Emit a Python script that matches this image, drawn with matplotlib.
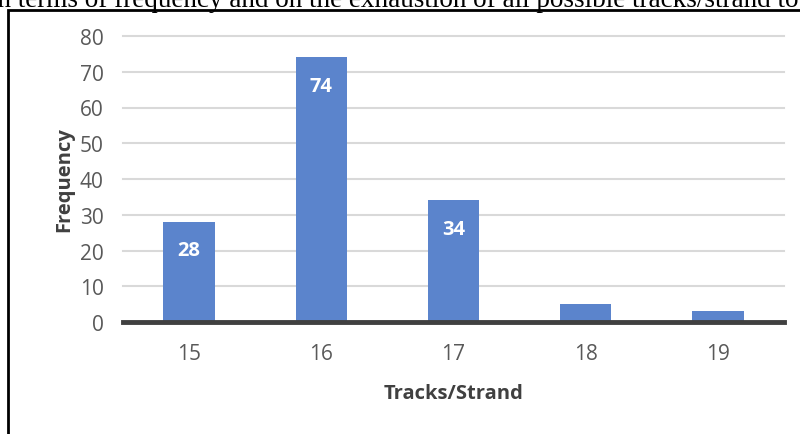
import matplotlib.pyplot as plt
from matplotlib.patches import Rectangle

# data
tracks = ['15', '16', '17', '18', '19']
frequency = [28, 74, 34, 5, 3]
labelled = [True, True, True, False, False]

plt.rcParams['font.family'] = ['Open Sans', 'DejaVu Sans']

fig = plt.figure(figsize=(8, 4.35), dpi=100)

# frame of the figure box in the document
fig.patches.append(Rectangle((8 / 800, -0.1), 1.0, 1 - 11 / 435 + 0.1, transform=fig.transFigure,
                             fill=False, edgecolor='black', linewidth=2, zorder=5))
# cut-off caption line above the box
fig.text(-0.012, 1 - 7 / 435, 'in terms of frequency and on the exhaustion of all possible tracks/strand to',
         family='Liberation Serif', fontsize=19.5, va='baseline', ha='left')

ax = fig.add_axes([123 / 800, 1 - 323 / 435, (784 - 123) / 800, (323 - 37) / 435])
x = range(len(tracks))
bars = ax.bar(x, frequency, width=0.39, color='#5b84cc', zorder=2)

for b, v, show in zip(bars, frequency, labelled):
    if show:
        ax.text(b.get_x() + b.get_width() / 2, v - 8, str(v), ha='center', va='center',
                color='white', fontsize=14.5, fontweight='bold', zorder=3)

ax.set_xlim(-0.5, 4.5)
ax.set_ylim(0, 80)
ax.set_yticks(range(0, 81, 10))
ax.set_xticks(list(x))
ax.set_xticklabels(tracks)
for yv in range(10, 81, 10):
    ax.axhline(yv, color='#d9d9d9', linewidth=1.5, zorder=1, clip_on=False)
ax.axhline(0, color='#404040', linewidth=3.5, zorder=4, clip_on=False)

for s in ax.spines.values():
    s.set_visible(False)
ax.tick_params(length=0, labelsize=15, labelcolor='#595959')
ax.tick_params(axis='y', pad=14)
ax.tick_params(axis='x', pad=15)
ax.set_xlabel('Tracks/Strand', fontsize=14.5, fontweight='bold', color='#404040', labelpad=14)
ax.set_ylabel('Frequency', fontsize=14.5, fontweight='bold', color='#404040', labelpad=4)

fig.savefig('out.png', dpi=100)
